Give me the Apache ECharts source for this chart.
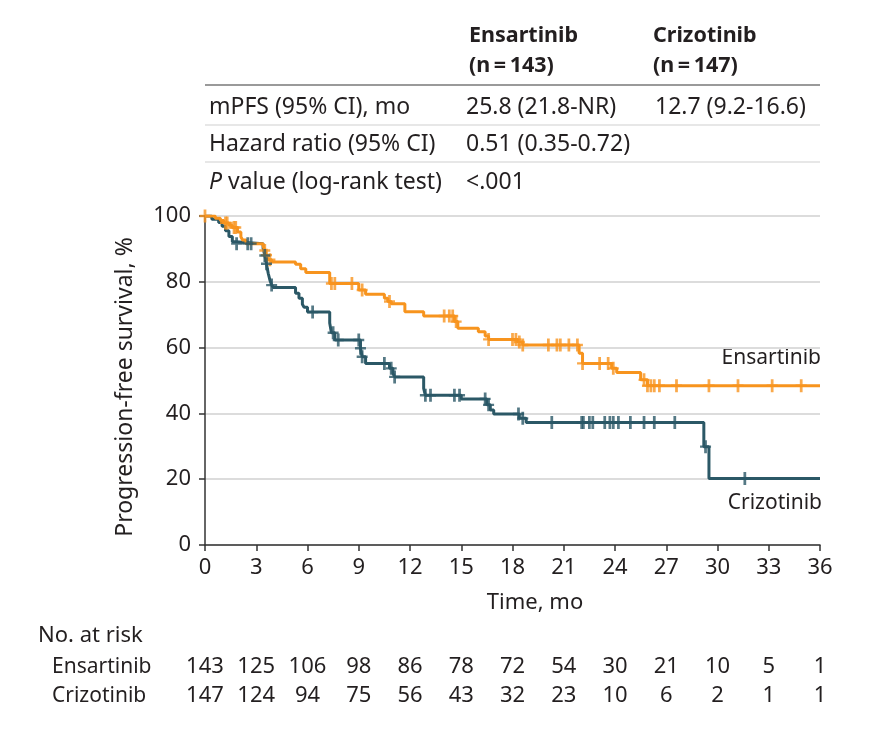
<!DOCTYPE html>
<html><head><meta charset="utf-8">
<script src="https://cdn.jsdelivr.net/npm/echarts@6/dist/echarts.min.js"></script>
<style>html,body{margin:0;padding:0;background:#fff}#c{width:894px;height:730px}</style>
</head><body><div id="c"></div>
<script>
// ---- data ----
const xTickLabels = ['0','3','6','9','12','15','18','21','24','27','30','33','36'];
const yTickLabels = ['0','20','40','60','80','100'];

const ensTimes = [0,0.6,0.9,1.1,1.4,1.6,1.9,2.1,2.2,2.4,3.4,3.5,3.6,3.7,3.9,5.3,5.6,5.9,7.3,9.0,9.4,10.5,10.7,10.9,11.7,12.8,14.6,14.8,16.0,16.4,16.6,18.3,18.6,21.9,22.1,23.8,24.1,25.5,25.9,36];
const ensSurv  = [100,99.3,98.6,97.9,97.2,96.5,95.1,93.7,92.7,91.6,90.9,89.5,88.1,86.7,86.0,85.3,84.0,82.8,79.5,77.5,76.2,75.0,74.0,73.3,70.9,69.6,67.9,65.9,64.8,63.5,62.5,61.7,60.8,58.3,55.2,53.7,52.4,50.2,48.4,48.4];
const ensCensor = [0,1.2,1.3,1.7,1.8,3.5,3.6,3.8,7.4,7.6,8.6,9.2,10.8,14.0,14.3,14.5,14.7,16.6,18.0,18.2,18.4,18.6,20.1,20.6,20.8,21.3,21.8,22.1,23.1,23.6,23.9,25.7,25.9,26.1,26.3,26.6,27.6,29.5,31.2,33.2,34.9];

const crzTimes = [0,0.4,0.8,1.0,1.2,1.4,1.6,1.8,3.4,3.5,3.6,3.65,3.7,3.8,3.9,4.0,5.3,5.5,5.7,5.8,6.0,7.3,7.4,7.6,9.1,9.2,9.4,10.8,11.0,11.1,12.8,12.9,15.0,16.5,16.7,16.9,18.4,18.8,29.2,29.5,36];
const crzSurv  = [100,99.0,98.0,96.9,95.5,93.8,92.2,91.6,90.2,88.0,85.5,84.0,82.6,80.5,79.0,78.3,76.5,75.0,73.2,72.3,70.8,67.5,64.5,62.3,59.8,57.2,55.2,53.7,52.2,51.1,47.6,45.5,44.4,42.6,41.0,39.8,38.5,37.2,29.9,20.2,20.2];
const crzCensor = [1.85,2.5,2.7,3.5,3.6,3.9,6.3,7.5,7.8,9.0,9.1,9.2,10.5,10.9,11.1,12.9,13.2,14.6,14.9,16.4,16.6,18.35,18.6,20.3,22.05,22.15,22.5,22.7,23.4,23.7,23.9,24.2,24.9,25.7,26.3,27.5,29.3,31.6];

const ensRisk = [143,125,106,98,86,78,72,54,30,21,10,5,1];
const crzRisk = [147,124,94,75,56,43,32,23,10,6,2,1,1];

// ---- helpers ----
function survAt(times, surv, t) {
  let s = surv[0];
  for (let i = 0; i < times.length; i++) { if (times[i] <= t) s = surv[i]; }
  return s;
}
const ORANGE = '#F7941E', TEAL = '#2B5866', INK = '#231F20';
const FONT = 'Noto Sans';
const PLUS = 'path://M3.75,0H6.25V4.9H10V7.1H6.25V12H3.75V7.1H0V4.9H3.75Z';

const chart = echarts.init(document.getElementById('c'), null, {renderer: 'canvas'});

function riskAxis(arr, offset) {
  return {
    type: 'value', min: 0, max: 36, interval: 3, position: 'bottom', offset: offset,
    axisLine: {show: false}, axisTick: {show: false}, splitLine: {show: false},
    axisLabel: {show: true, margin: 13, fontFamily: FONT, fontSize: 22, color: INK,
      showMinLabel: true, showMaxLabel: true,
      formatter: v => { const i = Math.round(v / 3); return arr[i] !== undefined ? String(arr[i]) : ''; }}
  };
}
function txt(x, y, text, size, bold, extra, elExtra) {
  return Object.assign({
    type: 'text', x: x, y: y,
    style: Object.assign({text: text, font: (bold ? 'bold ' : '') + size + 'px "Noto Sans"', fill: INK,
      verticalAlign: 'middle', textVerticalAlign: 'middle'}, extra || {})
  }, elExtra || {});
}

const option = {
  animation: false,
  backgroundColor: '#fff',
  grid: {left: 205, right: 74, top: 216, bottom: 185, containLabel: false},
  xAxis: [
    {
      type: 'value', min: 0, max: 36, interval: 3,
      axisLine: {show: true, lineStyle: {color: '#333', width: 1.5}},
      axisTick: {show: true, length: 6, lineStyle: {color: '#333', width: 1.5}},
      splitLine: {show: false},
      axisLabel: {margin: 12, fontFamily: FONT, fontSize: 22, color: INK,
        formatter: v => xTickLabels[Math.round(v / 3)]}
    },
    riskAxis(ensRisk, 98),
    riskAxis(crzRisk, 127)
  ],
  yAxis: {
    type: 'value', min: 0, max: 100, interval: 20,
    axisLine: {show: true, lineStyle: {color: '#333', width: 1.5}},
    axisTick: {show: true, length: 6, lineStyle: {color: '#333', width: 1.5}},
    splitLine: {show: true, lineStyle: {color: '#DCDCDC', width: 2}},
    axisLabel: {margin: 14, fontFamily: FONT, fontSize: 22, color: INK,
      formatter: v => yTickLabels[Math.round(v / 20)]}
  },
  series: [
    {
      name: 'Ensartinib', type: 'line', step: 'end', showSymbol: false,
      lineStyle: {color: ORANGE, width: 3}, itemStyle: {color: ORANGE},
      data: ensTimes.map((t, i) => [t, ensSurv[i]]), z: 3
    },
    {
      name: 'Crizotinib', type: 'line', step: 'end', showSymbol: false,
      lineStyle: {color: TEAL, width: 3}, itemStyle: {color: TEAL},
      data: crzTimes.map((t, i) => [t, crzSurv[i]]), z: 2
    },
    {
      type: 'scatter', symbol: PLUS, symbolSize: [11, 13], itemStyle: {color: ORANGE},
      data: ensCensor.map(t => [t, survAt(ensTimes, ensSurv, t)]), z: 4
    },
    {
      type: 'scatter', symbol: PLUS, symbolSize: [11, 13], itemStyle: {color: TEAL},
      data: crzCensor.map(t => [t, survAt(crzTimes, crzSurv, t)]), z: 4
    }
  ],
  graphic: [
    // header table
    txt(469, 36, 'Ensartinib', 21.5, true),
    txt(469, 66, '(n\u2009=\u2009143)', 21.5, true),
    txt(653, 36, 'Crizotinib', 21.5, true),
    txt(653, 66, '(n\u2009=\u2009147)', 21.5, true),
    {type: 'line', shape: {x1: 205, y1: 85, x2: 820, y2: 85}, style: {stroke: '#9A9A9A', lineWidth: 2}},
    txt(209, 107, 'mPFS (95% CI), mo', 23, false),
    txt(466, 107, '25.8 (21.8-NR)', 23, false),
    txt(655, 107, '12.7 (9.2-16.6)', 23, false),
    {type: 'line', shape: {x1: 205, y1: 125, x2: 820, y2: 125}, style: {stroke: '#D0D0D0', lineWidth: 1.2}},
    txt(209, 144, 'Hazard ratio (95% CI)', 23, false),
    txt(466, 144, '0.51 (0.35-0.72)', 23, false),
    {type: 'line', shape: {x1: 205, y1: 162, x2: 820, y2: 162}, style: {stroke: '#D0D0D0', lineWidth: 1.2}},
    txt(209, 182, '{i|P} value (log-rank test)', 23, false,
      {rich: {i: {fontStyle: 'italic', fontFamily: FONT, fontSize: 23, fill: INK, color: INK}}}),
    txt(466, 182, '<.001', 23, false),
    // axis titles
    txt(535, 603, 'Time, mo', 22, false, {align: 'center', textAlign: 'center'}),
    txt(125, 387, 'Progression-free survival, %', 23, false, {align: 'center', textAlign: 'center'}, {rotation: Math.PI / 2}),
    // curve labels
    txt(821, 358, 'Ensartinib', 21, false, {align: 'right', textAlign: 'right'}),
    txt(822, 503, 'Crizotinib', 21, false, {align: 'right', textAlign: 'right'}),
    // risk table labels
    txt(38, 636, 'No. at risk', 22, false),
    txt(52, 667, 'Ensartinib', 21, false),
    txt(52, 696, 'Crizotinib', 21, false)
  ]
};
chart.setOption(option);
</script>
</body></html>
